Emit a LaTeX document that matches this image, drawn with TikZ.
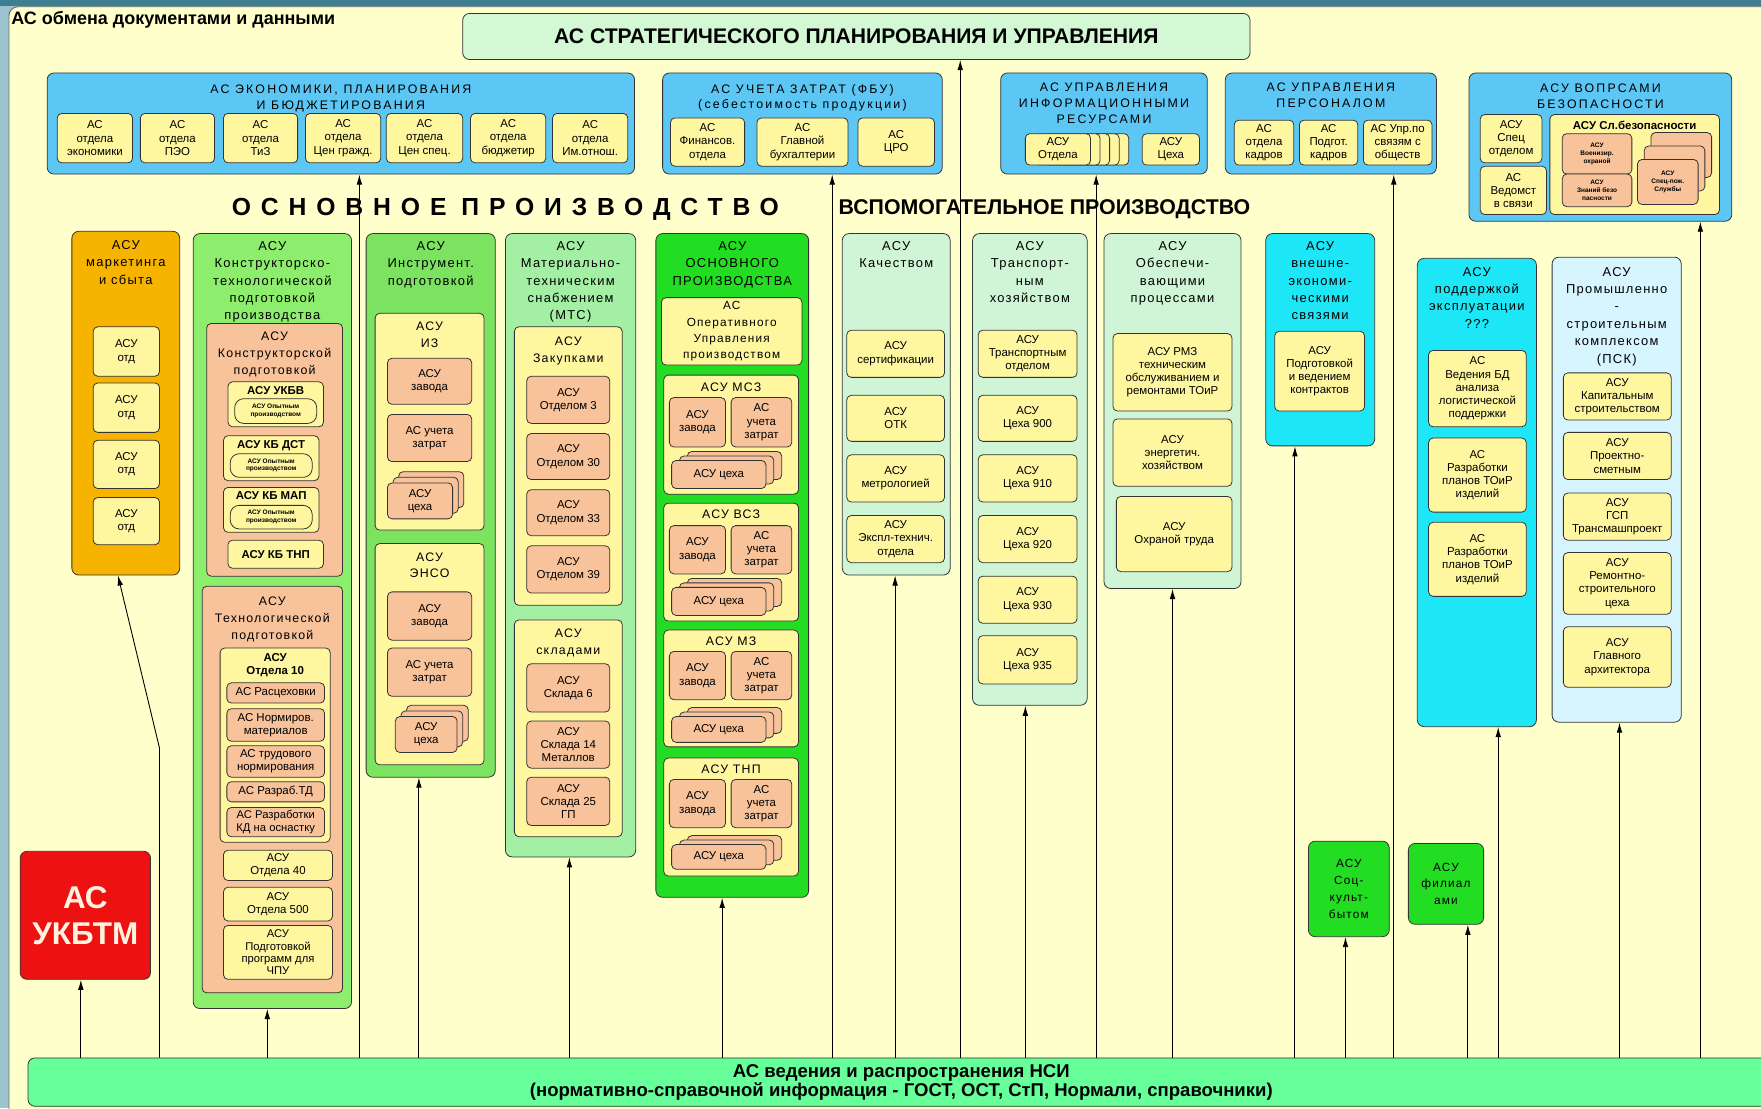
\documentclass[tikz,border=0pt]{standalone}
\usepackage{fontspec}
\setmainfont{Liberation Sans}
\newfontfamily\spacedfont[LetterSpace=10]{Liberation Sans}
\newfontfamily\boxfont[LetterSpace=18]{Liberation Sans}
\newfontfamily\widefont[LetterSpace=40]{Liberation Sans}
\usetikzlibrary{positioning, shadows, arrows.meta}

\definecolor{framecol}{HTML}{9CC3CF}
\definecolor{framedark}{HTML}{3E7F92}
\definecolor{panel}{HTML}{FFFFCC}
\definecolor{stratcol}{HTML}{D3F8D3}
\definecolor{skyblue}{HTML}{5CC6F4}
\definecolor{paleyel}{HTML}{FFF7A0}
\definecolor{peach}{HTML}{F8C29A}
\definecolor{amber}{HTML}{F6B300}
\definecolor{leaf}{HTML}{8CEE6C}
\definecolor{leafdeep}{HTML}{7BE35F}
\definecolor{mint}{HTML}{A3EFA3}
\definecolor{brightgreen}{HTML}{22DD22}
\definecolor{palemint}{HTML}{CFF5D6}
\definecolor{aqua}{HTML}{1DE7F7}
\definecolor{icecyan}{HTML}{D7F5FF}
\definecolor{spring}{HTML}{66FF99}
\definecolor{alarm}{HTML}{EE1111}
\definecolor{cream}{HTML}{FFF3E0}

\newcommand{\cellfont}{\fontsize{10.2}{11.8}\selectfont}
\newcommand{\celltitlefont}{\fontsize{10.2}{11.8}\selectfont\bfseries}
\newcommand{\tinyfont}{\fontsize{5.8}{6.8}\selectfont\bfseries}
\newcommand{\coltitlefont}{\spacedfont\fontsize{11.5}{15.5}\selectfont}
\newcommand{\boxtitlefont}{\boxfont\fontsize{11}{14}\selectfont}
\newcommand{\subtitlefont}{\spacedfont\fontsize{11}{15}\selectfont}

\tikzstyle{base} = [rectangle, rounded corners=4pt, draw=black!80, line width=0.7pt, inner sep=1pt, align=center, text=black]
\tikzstyle{bluebox} = [base, rounded corners=6pt, fill=skyblue]
\tikzstyle{column} = [base, rounded corners=6pt]
\tikzstyle{cell} = [base, fill=paleyel, font=\cellfont]
\tikzstyle{pcell} = [base, fill=peach, font=\cellfont]
\tikzstyle{ycont} = [base, fill=paleyel]
\tikzstyle{pcont} = [base, fill=peach]
\tikzstyle{oval} = [base, rounded corners=8pt, fill=paleyel, font=\tinyfont]
\tikzstyle{tinycell} = [base, fill=peach, font=\tinyfont]
\tikzstyle{stack} = [pcell, double copy shadow={shadow xshift=5pt, shadow yshift=5pt, fill=peach, draw=black!80, line width=0.7pt}]
\tikzstyle{wstack} = [pcell, double copy shadow={shadow xshift=7pt, shadow yshift=4pt, fill=peach, draw=black!80, line width=0.7pt}]
\tikzstyle{coltitle} = [align=center, inner sep=0pt, font=\coltitlefont]
\tikzstyle{boxtitle} = [align=center, inner sep=0pt, font=\boxtitlefont]
\tikzstyle{subtitle} = [align=center, inner sep=0pt, font=\subtitlefont]
\tikzstyle{celltitle} = [align=center, inner sep=0pt, font=\celltitlefont]
\tikzstyle{arrow} = [line width=0.8pt, -{Latex[length=9pt, width=5pt]}]

\newcommand{\blk}[7]{%
  \node[#1, minimum width={(#5)-(#3)}, minimum height={(#6)-(#4)}] (#2) at ({((#3)+(#5))/2},{((#4)+(#6))/2}) {#7};}

\begin{document}
\begin{tikzpicture}[x=1pt, y=-1pt]
\useasboundingbox (0,0) rectangle (1568,987);
\fill[framecol] (0,0) rectangle (1568,987);
\fill[framedark] (0,0) rectangle (1568,5);
\filldraw[fill=panel, draw=black!60, line width=0.8pt, rounded corners=8pt] (8,6) rectangle (1600,1010);

\node (doctitle) [anchor=west, inner sep=0pt, font=\fontsize{16}{18}\selectfont\bfseries] at (10,18) {АС обмена документами и данными};

\blk{base, fill=stratcol, rounded corners=6pt, font=\fontsize{18.8}{20}\selectfont\bfseries}{strat}{412}{12}{1113}{53}{АС СТРАТЕГИЧЕСКОГО ПЛАНИРОВАНИЯ И УПРАВЛЕНИЯ}

\blk{bluebox}{eco}{42}{65}{565}{155}{}
\node (ecot) [boxtitle, below=11pt of eco.north] {АС ЭКОНОМИКИ, ПЛАНИРОВАНИЯ\\И БЮДЖЕТИРОВАНИЯ};
\blk{cell}{eco1}{51}{101}{118}{145}{АС\\отдела\\экономики}
\blk{cell}{eco2}{125}{101}{191}{145}{АС\\отдела\\ПЭО}
\blk{cell}{eco3}{199}{101}{265}{145}{АС\\отдела\\ТиЗ}
\blk{cell}{eco4}{272}{101}{339}{145}{АС\\отдела\\Цен гражд.}
\blk{cell}{eco5}{344}{101}{412}{145}{АС\\отдела\\Цен спец.}
\blk{cell}{eco6}{419}{101}{486}{145}{АС\\отдела\\бюджетир}
\blk{cell}{eco7}{492}{101}{559}{145}{АС\\отдела\\Им.отнош.}

\blk{bluebox}{zatr}{590}{65}{839}{155}{}
\node (zatrt) [boxtitle, below=10pt of zatr.north] {АС УЧЕТА ЗАТРАТ (ФБУ)\\(себестоимость продукции)};
\blk{cell}{zatr1}{597}{105}{663}{148}{АС\\Финансов.\\отдела}
\blk{cell}{zatr2}{674}{105}{755}{148}{АС\\Главной\\бухгалтерии}
\blk{cell}{zatr3}{764}{105}{832}{148}{АС\\ЦРО}

\blk{bluebox}{info}{891}{65}{1075}{155}{}
\node (infot) [boxtitle, below=9pt of info.north] {АС УПРАВЛЕНИЯ\\ИНФОРМАЦИОННЫМИ\\РЕСУРСАМИ};
\foreach \k in {4,3,2,1} {
  \node[cell, minimum width=58pt, minimum height=28pt] (infocopy\k) at ({942+8.5*\k},133) {};
}
\blk{cell}{info1}{913}{119}{971}{147}{АСУ\\Отдела}
\blk{cell}{info2}{1017}{119}{1068}{147}{АСУ\\Цеха}

\blk{bluebox}{pers}{1091}{65}{1279}{155}{}
\node (perst) [boxtitle, below=9pt of pers.north] {АС УПРАВЛЕНИЯ\\ПЕРСОНАЛОМ};
\blk{cell}{pers1}{1099}{107}{1152}{147}{АС\\отдела\\кадров}
\blk{cell}{pers2}{1157}{107}{1209}{147}{АС\\Подгот.\\кадров}
\blk{cell}{pers3}{1214}{107}{1275}{147}{АС Упр.по\\связям с\\обществ}

\blk{bluebox}{sec}{1308}{65}{1542}{197}{}
\node (sect) [boxtitle, below=10pt of sec.north] {АСУ ВОПРСАМИ\\БЕЗОПАСНОСТИ};
\blk{cell}{sec1}{1318}{102}{1373}{145}{АСУ\\Спец\\отделом}
\blk{cell}{sec2}{1318}{148}{1377}{191}{АС\\Ведомст\\в связи}
\blk{ycont}{secsb}{1380}{102}{1531}{191}{}
\node (secsbt) [celltitle, below=6pt of secsb.north] {АСУ Сл.безопасности};
\blk{tinycell}{sec3}{1391}{119}{1453}{155}{АСУ\\Военизир.\\охраной}
\blk{tinycell}{sec4}{1391}{155}{1453}{184}{АСУ\\Знаний безо\\пасности}
\blk{tinycell, double copy shadow={shadow xshift=6pt, shadow yshift=12pt, fill=peach, draw=black!80, line width=0.7pt}}{sec5}{1458}{142}{1512}{182}{АСУ\\Спец-пож.\\Службы}

\node (mainhead) [inner sep=0pt, font=\widefont\fontsize{22}{24}\selectfont\bfseries] at (450,186) {ОСНОВНОЕ\hspace{0.6em}ПРОИЗВОДСТВО};
\node (auxhead) [inner sep=0pt, font=\fontsize{19}{21}\selectfont\bfseries] at (930,186) {ВСПОМОГАТЕЛЬНОЕ ПРОИЗВОДСТВО};

\blk{column, fill=amber}{mkt}{64}{206}{160}{512}{}
\node (mktt) [coltitle, below=8pt of mkt.north] {АСУ\\маркетинга\\и сбыта};
\blk{cell}{mkt1}{83}{291}{142}{335}{АСУ\\отд}
\blk{cell}{mkt2}{83}{341}{142}{385}{АСУ\\отд}
\blk{cell}{mkt3}{83}{392}{142}{435}{АСУ\\отд}
\blk{cell}{mkt4}{83}{443}{142}{485}{АСУ\\отд}

\blk{column, fill=leaf}{konstr}{172}{208}{313}{898}{}
\node (konstrt) [coltitle, below=7pt of konstr.north] {АСУ\\Конструкторско-\\технологической\\подготовкой\\производства};
\blk{pcont}{kpeach}{184}{288}{305}{513}{}
\node (kpeacht) [subtitle, below=8pt of kpeach.north] {АСУ\\Конструкторской\\подготовкой};
\blk{ycont}{ukbv}{203}{340}{288}{380}{}
\node (ukbvt) [celltitle, below=4pt of ukbv.north] {АСУ УКБВ};
\blk{oval}{ukbvo}{209}{355}{282}{377}{АСУ Опытным\\производством}
\blk{ycont}{kbdst}{199}{388}{284}{428}{}
\node (kbdstt) [celltitle, below=4pt of kbdst.north] {АСУ КБ ДСТ};
\blk{oval}{kbdsto}{205}{404}{278}{425}{АСУ Опытным\\производством}
\blk{ycont}{kbmap}{199}{434}{284}{474}{}
\node (kbmapt) [celltitle, below=4pt of kbmap.north] {АСУ КБ МАП};
\blk{oval}{kbmapo}{205}{450}{278}{471}{АСУ Опытным\\производством}
\blk{cell, font=\celltitlefont}{kbtnp}{203}{481}{288}{506}{АСУ КБ ТНП}

\blk{pcont}{tpeach}{180}{522}{305}{884}{}
\node (tpeacht) [subtitle, below=10pt of tpeach.north] {АСУ\\Технологической\\подготовкой};
\blk{ycont}{otd10}{196}{577}{294}{750}{}
\node (otd10t) [celltitle, below=5pt of otd10.north] {АСУ\\Отдела 10};
\blk{pcell}{rasc}{202}{608}{289}{626}{АС Расцеховки}
\blk{pcell}{norm}{202}{631}{289}{660}{АС Нормиров.\\материалов}
\blk{pcell}{trud}{202}{664}{289}{692}{АС трудового\\нормирования}
\blk{pcell}{rtd}{202}{696}{289}{714}{АС Разраб.ТД}
\blk{pcell, font=\fontsize{10}{11}\selectfont}{rkd}{202}{719}{289}{745}{АС Разработки\\КД на оснастку}
\blk{cell}{otd40}{199}{757}{296}{784}{АСУ\\Отдела 40}
\blk{cell}{otd500}{199}{790}{296}{820}{АСУ\\Отдела 500}
\blk{cell, font=\fontsize{10}{11}\selectfont}{chpu}{199}{824}{296}{872}{АСУ\\Подготовкой\\программ для\\ЧПУ}

\blk{column, fill=leafdeep}{instr}{326}{208}{441}{692}{}
\node (instrt) [coltitle, below=7pt of instr.north] {АСУ\\Инструмент.\\подготовкой};
\blk{ycont}{iz}{334}{279}{431}{472}{}
\node (izt) [subtitle, below=8pt of iz.north] {АСУ\\ИЗ};
\blk{pcell}{izz}{345}{319}{420}{360}{АСУ\\завода}
\blk{pcell}{izu}{345}{369}{420}{411}{АС учета\\затрат}
\blk{stack}{izc}{345}{430}{403}{462}{АСУ\\цеха}
\blk{ycont}{enso}{334}{484}{431}{681}{}
\node (ensot) [subtitle, below=8pt of enso.north] {АСУ\\ЭНСО};
\blk{pcell}{ensz}{345}{527}{420}{570}{АСУ\\завода}
\blk{pcell}{ensu}{345}{577}{420}{620}{АС учета\\затрат}
\blk{stack}{ensc}{352}{638}{407}{670}{АСУ\\цеха}

\blk{column, fill=mint}{mts}{450}{208}{566}{763}{}
\node (mtst) [coltitle, below=7pt of mts.north] {АСУ\\Материально-\\техническим\\снабжением\\(МТС)};
\blk{ycont}{zak}{458}{291}{554}{539}{}
\node (zakt) [subtitle, below=9pt of zak.north] {АСУ\\Закупками};
\blk{pcell}{o3}{469}{335}{543}{377}{АСУ\\Отделом 3}
\blk{pcell}{o30}{469}{386}{543}{427}{АСУ\\Отделом 30}
\blk{pcell}{o33}{469}{436}{543}{477}{АСУ\\Отделом 33}
\blk{pcell}{o39}{469}{486}{543}{528}{АСУ\\Отделом 39}
\blk{ycont}{skl}{458}{552}{554}{745}{}
\node (sklt) [subtitle, below=8pt of skl.north] {АСУ\\складами};
\blk{pcell}{s6}{469}{591}{543}{634}{АСУ\\Склада 6}
\blk{pcell}{s14}{469}{642}{543}{684}{АСУ\\Склада 14\\Металлов}
\blk{pcell}{s25}{469}{692}{543}{735}{АСУ\\Склада 25\\ГП}

\blk{column, fill=brightgreen}{osn}{584}{208}{720}{799}{}
\node (osnt) [coltitle, below=7pt of osn.north] {АСУ\\ОСНОВНОГО\\ПРОИЗВОДСТВА};
\blk{cell, font=\spacedfont\fontsize{10.5}{14.5}\selectfont}{oper}{589}{265}{714}{325}{АС\\Оперативного\\Управления\\производством}
\blk{ycont}{msz}{591}{334}{711}{440}{}
\node (mszt) [subtitle, below=7pt of msz.north] {АСУ МСЗ};
\blk{pcell}{mszz}{596}{354}{646}{398}{АСУ\\завода}
\blk{pcell}{mszu}{651}{354}{705}{398}{АС\\учета\\затрат}
\blk{wstack}{mszc}{598}{410}{682}{435}{АСУ цеха}
\blk{ycont}{vsz}{591}{448}{711}{553}{}
\node (vszt) [subtitle, below=6pt of vsz.north] {АСУ ВСЗ};
\blk{pcell}{vszz}{596}{468}{646}{511}{АСУ\\завода}
\blk{pcell}{vszu}{651}{468}{705}{511}{АС\\учета\\затрат}
\blk{wstack}{vszc}{598}{523}{682}{548}{АСУ цеха}
\blk{ycont}{mz}{591}{561}{711}{665}{}
\node (mzt) [subtitle, below=6pt of mz.north] {АСУ МЗ};
\blk{pcell}{mzz}{596}{580}{646}{623}{АСУ\\завода}
\blk{pcell}{mzu}{651}{580}{705}{623}{АС\\учета\\затрат}
\blk{wstack}{mzc}{598}{638}{682}{661}{АСУ цеха}
\blk{ycont}{tnp}{591}{675}{711}{780}{}
\node (tnpt) [subtitle, below=6pt of tnp.north] {АСУ ТНП};
\blk{pcell}{tnpz}{596}{694}{646}{737}{АСУ\\завода}
\blk{pcell}{tnpu}{651}{694}{705}{737}{АС\\учета\\затрат}
\blk{wstack}{tnpc}{598}{752}{682}{774}{АСУ цеха}

\blk{column, fill=palemint}{kach}{750}{208}{846}{512}{}
\node (kacht) [coltitle, below=7pt of kach.north] {АСУ\\Качеством};
\blk{cell}{kach1}{754}{294}{841}{336}{АСУ\\сертификации}
\blk{cell}{kach2}{754}{352}{841}{393}{АСУ\\ОТК}
\blk{cell}{kach3}{754}{405}{841}{447}{АСУ\\метрологией}
\blk{cell}{kach4}{754}{459}{841}{501}{АСУ\\Экспл-технич.\\отдела}

\blk{column, fill=palemint}{trans}{866}{208}{968}{628}{}
\node (transt) [coltitle, below=7pt of trans.north] {АСУ\\Транспорт-\\ным\\хозяйством};
\blk{cell}{trans1}{871}{294}{959}{336}{АСУ\\Транспортным\\отделом}
\blk{cell}{trans2}{871}{352}{959}{393}{АСУ\\Цеха 900}
\blk{cell}{trans3}{871}{405}{959}{447}{АСУ\\Цеха 910}
\blk{cell}{trans4}{871}{459}{959}{501}{АСУ\\Цеха 920}
\blk{cell}{trans5}{871}{513}{959}{555}{АСУ\\Цеха 930}
\blk{cell}{trans6}{871}{566}{959}{609}{АСУ\\Цеха 935}

\blk{column, fill=palemint}{obesp}{983}{208}{1105}{524}{}
\node (obespt) [coltitle, below=7pt of obesp.north] {АСУ\\Обеспечи-\\вающими\\процессами};
\blk{cell}{obesp1}{991}{297}{1097}{366}{АСУ РМЗ\\техническим\\обслуживанием и\\ремонтами ТОиР}
\blk{cell}{obesp2}{991}{373}{1097}{433}{АСУ\\энергетич.\\хозяйством}
\blk{cell}{obesp3}{994}{442}{1097}{509}{АСУ\\Охраной труда}

\blk{column, fill=aqua}{ved}{1127}{208}{1224}{397}{}
\node (vedt) [coltitle, below=7pt of ved.north] {АСУ\\внешне-\\экономи-\\ческими\\связями};
\blk{cell}{ved1}{1135}{295}{1215}{366}{АСУ\\Подготовкой\\и ведением\\контрактов}

\blk{column, fill=aqua}{podd}{1262}{230}{1368}{647}{}
\node (poddt) [coltitle, below=8pt of podd.north] {АСУ\\поддержкой\\эксплуатации\\???};
\blk{cell}{podd1}{1272}{312}{1359}{380}{АС\\Ведения БД\\анализа\\логистической\\поддержки}
\blk{cell}{podd2}{1272}{390}{1359}{456}{АС\\Разработки\\планов ТОиР\\изделий}
\blk{cell}{podd3}{1272}{465}{1359}{531}{АС\\Разработки\\планов ТОиР\\изделий}

\blk{column, fill=icecyan}{psk}{1382}{229}{1497}{643}{}
\node (pskt) [coltitle, below=9pt of psk.north] {АСУ\\Промышленно\\-\\строительным\\комплексом\\(ПСК)};
\blk{cell}{psk1}{1392}{332}{1488}{374}{АСУ\\Капитальным\\строительством}
\blk{cell}{psk2}{1392}{385}{1488}{427}{АСУ\\Проектно-\\сметным}
\blk{cell}{psk3}{1392}{439}{1488}{481}{АСУ\\ГСП\\Трансмашпроект}
\blk{cell}{psk4}{1392}{492}{1488}{547}{АСУ\\Ремонтно-\\строительного\\цеха}
\blk{cell}{psk5}{1392}{558}{1488}{612}{АСУ\\Главного\\архитектора}

\blk{column, fill=alarm, text=cream, font=\fontsize{28}{32}\selectfont\bfseries}{ukbtm}{18}{758}{134}{872}{АС\\УКБТМ}
\blk{column, fill=brightgreen, font=\spacedfont\fontsize{10.5}{15}\selectfont}{soc}{1165}{749}{1237}{834}{АСУ\\Соц-\\культ-\\бытом}
\blk{column, fill=brightgreen, font=\spacedfont\fontsize{10.5}{15}\selectfont}{fil}{1254}{751}{1321}{823}{АСУ\\филиал\\ами}

\blk{column, fill=spring, font=\fontsize{16.5}{17}\selectfont\bfseries}{nsi}{25}{942}{1580}{985}{АС ведения и распространения НСИ\\(нормативно-справочной информация - ГОСТ, ОСТ, СтП, Нормали, справочники)}

\draw [arrow] (nsi.north -| 72,0) -- (ukbtm.south -| 72,0);
\draw [arrow] (nsi.north -| 142,0) -- (142,666) -- (mkt.south -| 105,0);
\draw [arrow] (nsi.north -| 238,0) -- (konstr.south -| 238,0);
\draw [arrow] (nsi.north -| 320,0) -- (eco.south -| 320,0);
\draw [arrow] (nsi.north -| 373,0) -- (instr.south -| 373,0);
\draw [arrow] (nsi.north -| 507,0) -- (mts.south -| 507,0);
\draw [arrow] (nsi.north -| 643,0) -- (osn.south -| 643,0);
\draw [arrow] (nsi.north -| 741,0) -- (zatr.south -| 741,0);
\draw [arrow] (nsi.north -| 797,0) -- (kach.south -| 797,0);
\draw [arrow] (nsi.north -| 855,0) -- (strat.south -| 855,0);
\draw [arrow] (nsi.north -| 913,0) -- (trans.south -| 913,0);
\draw [arrow] (nsi.north -| 976,0) -- (info.south -| 976,0);
\draw [arrow] (nsi.north -| 1044,0) -- (obesp.south -| 1044,0);
\draw [arrow] (nsi.north -| 1153,0) -- (ved.south -| 1153,0);
\draw [arrow] (nsi.north -| 1198,0) -- (soc.south -| 1198,0);
\draw [arrow] (nsi.north -| 1241,0) -- (pers.south -| 1241,0);
\draw [arrow] (nsi.north -| 1307,0) -- (fil.south -| 1307,0);
\draw [arrow] (nsi.north -| 1334,0) -- (podd.south -| 1334,0);
\draw [arrow] (nsi.north -| 1442,0) -- (psk.south -| 1442,0);
\draw [arrow] (nsi.north -| 1514,0) -- (sec.south -| 1514,0);
\end{tikzpicture}
\end{document}
